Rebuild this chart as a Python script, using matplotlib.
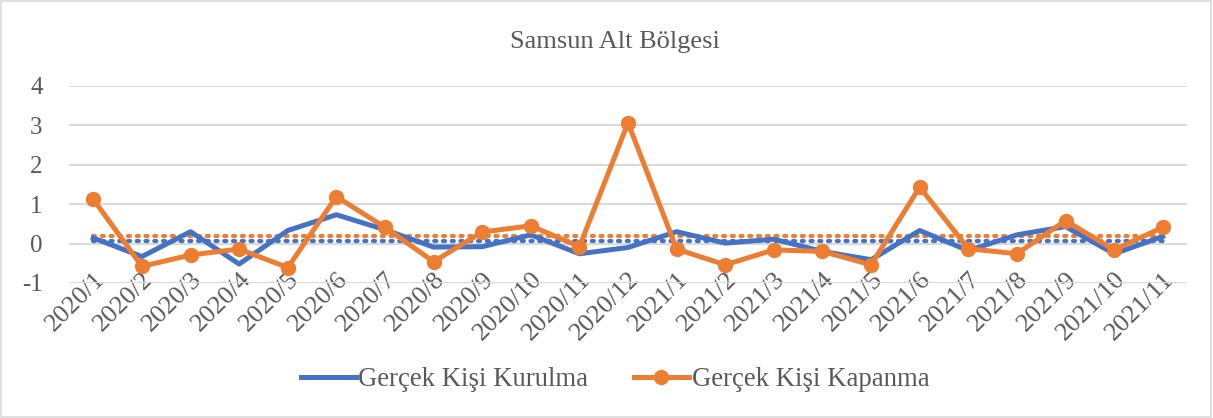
import numpy as np
import matplotlib
matplotlib.use("Agg")
import matplotlib.pyplot as plt
import matplotlib.transforms as mtransforms
from matplotlib.patches import Rectangle

# Veriler
aylar = ['2020/1', '2020/2', '2020/3', '2020/4', '2020/5', '2020/6', '2020/7', '2020/8',
         '2020/9', '2020/10', '2020/11', '2020/12', '2021/1', '2021/2', '2021/3', '2021/4',
         '2021/5', '2021/6', '2021/7', '2021/8', '2021/9', '2021/10', '2021/11']
kurulma = [0.14, -0.33, 0.30, -0.52, 0.33, 0.73, 0.35, -0.09, -0.08, 0.22, -0.26, -0.10,
           0.30, 0.01, 0.11, -0.20, -0.41, 0.33, -0.18, 0.22, 0.43, -0.26, 0.18]
kapanma = [1.12, -0.58, -0.29, -0.14, -0.61, 1.19, 0.41, -0.46, 0.29, 0.45, -0.08, 3.06,
           -0.14, -0.54, -0.16, -0.20, -0.54, 1.43, -0.13, -0.26, 0.58, -0.16, 0.41]
y_ticks = [-1, 0, 1, 2, 3, 4]

mavi = '#4472C4'
turuncu = '#ED7D31'
gri = '#595959'

plt.rcParams['font.family'] = ['Liberation Serif', 'DejaVu Serif']

fig = plt.figure(figsize=(12.13, 4.18), dpi=100)
ax = fig.add_axes([0.0569, 0.323, 0.9217, 0.472])

x = np.arange(len(aylar))

# Ortalama çizgileri (noktalı)
ax.plot(x, [np.mean(kapanma)] * len(x), color=turuncu, linestyle=(0, (0.5, 1.6)),
        linewidth=3, dash_capstyle='round', zorder=2)
ax.plot(x, [np.mean(kurulma)] * len(x), color=mavi, linestyle=(0, (0.5, 1.6)),
        linewidth=3, dash_capstyle='round', zorder=2)

ax.plot(x, kurulma, color=mavi, linewidth=3.6, label='Gerçek Kişi Kurulma', zorder=3)
ax.plot(x, kapanma, color=turuncu, linewidth=3.6, marker='o', markersize=10,
        label='Gerçek Kişi Kapanma', zorder=4)

ax.set_xlim(-0.5, len(aylar) - 0.5)
ax.set_ylim(-1, 4)
ax.set_yticks(y_ticks)
ax.set_yticklabels([str(v) for v in y_ticks], fontsize=18, color=gri)
ax.set_xticks(x)
ax.set_xticklabels(aylar, rotation=45, ha='right', va='center', rotation_mode='anchor',
                   fontsize=19, color=gri)
ax.tick_params(axis='both', length=0)
ax.tick_params(axis='x', pad=0)
ax.tick_params(axis='y', pad=19)

# etiketleri Excel'deki gibi biraz yukarı kaydır
kaydir = mtransforms.ScaledTranslation(0.08, 0.07, fig.dpi_scale_trans)
for lbl in ax.get_xticklabels():
    lbl.set_transform(lbl.get_transform() + kaydir)

ax.grid(axis='y', color='#d9d9d9', linewidth=1.5)
ax.set_axisbelow(True)
for s in ax.spines.values():
    s.set_visible(False)

fig.text(0.507, 0.9, 'Samsun Alt Bölgesi', ha='center', va='center', fontsize=19, color=gri)

fig.legend(loc='center', bbox_to_anchor=(0.507, 0.092), ncol=2, frameon=False,
           fontsize=19.3, handlelength=2.05, columnspacing=1.7, handletextpad=0.1,
           labelcolor=gri)

fig.patches.append(Rectangle((0.001, 0.002), 0.997, 0.995, transform=fig.transFigure,
                             fill=False, edgecolor='#d9d9d9', linewidth=1.2))

fig.savefig('out.png', dpi=100)
